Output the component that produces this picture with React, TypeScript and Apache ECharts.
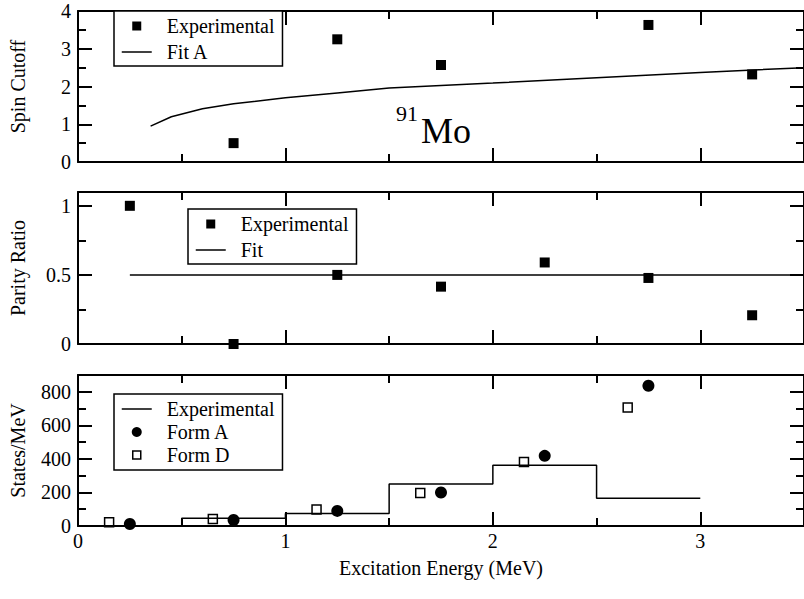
import React, { useEffect, useRef } from 'react';
import * as echarts from 'echarts';

const FONT = 'Liberation Serif, Times New Roman, serif';

// shared x axis
const xTickMajor = [0, 1, 2, 3];
const xTickMinor = [0.5, 1.5, 2.5];

// panel 1: spin cutoff
const spinTickMajor = [0, 1, 2, 3, 4];
const spinTickMinor = [0.5, 1.5, 2.5, 3.5];
const spinExpX = [0.75, 1.25, 1.75, 2.75, 3.25];
const spinExpY = [0.5, 3.25, 2.57, 3.63, 2.32];
const fitAX = [0.35, 0.45, 0.6, 0.75, 1.0, 1.25, 1.5, 2.0, 2.5, 3.0, 3.5];
const fitAY = [0.95, 1.2, 1.41, 1.54, 1.7, 1.83, 1.96, 2.09, 2.23, 2.37, 2.5];

// panel 2: parity ratio
const parityTickMajor = [0, 0.5, 1];
const parityTickMinor = [0.25, 0.75];
const parityExpX = [0.25, 0.75, 1.25, 1.75, 2.25, 2.75, 3.25];
const parityExpY = [1.0, 0.0, 0.5, 0.415, 0.59, 0.478, 0.208];
const parityFitX = [0.25, 3.5];
const parityFitY = [0.5, 0.5];

// panel 3: states / MeV
const statesTickMajor = [0, 200, 400, 600, 800];
const statesTickMinor = [100, 300, 500, 700];
const binStarts = [0, 0.5, 1.0, 1.5, 2.0, 2.5, 3.0];
const binValues = [2, 46, 74, 250, 362, 166, 166];
const formAX = [0.25, 0.75, 1.25, 1.75, 2.25, 2.75];
const formAY = [12, 36, 90, 200, 418, 836];
const formDX = [0.15, 0.65, 1.15, 1.65, 2.15, 2.65];
const formDY = [22, 42, 98, 196, 382, 706];

const legendLabels: Record<string, string> = {
  exp1: 'Experimental',
  fitA: 'Fit A',
  exp2: 'Experimental',
  fit2: 'Fit',
  exp3: 'Experimental',
  formA: 'Form A',
  formD: 'Form D',
};

const zip = (xs: number[], ys: number[]) => xs.map((x, i) => [x, ys[i]]);

const BLACK = '#000';
const axisLineStyle = { color: BLACK, width: 2 };
const labelStyle = { fontFamily: FONT, fontSize: 20, color: BLACK };

const SQUARE_ICON = 'path://M0,0M30,10M10.5,0.5h9v9h-9z';
const OPEN_SQUARE_ICON = 'path://M0,0M30,10M11,1h8v8h-8z';

const squareItem = (name: string) => ({ name, icon: SQUARE_ICON, itemStyle: { color: BLACK, borderWidth: 0, opacity: 1 } });
const lineItem = (name: string) => ({ name, icon: 'line', itemStyle: { color: BLACK, borderColor: BLACK, borderWidth: 1.5, opacity: 1 } });

function xAxes(grid: number, bottomPanel: boolean) {
  const base = { type: 'value', gridIndex: grid, min: 0, max: 3.5, splitLine: { show: false } };
  const major = { show: true, inside: true, length: 14, customValues: xTickMajor, lineStyle: axisLineStyle };
  const minor = { show: true, inside: true, length: 8, customValues: xTickMinor, lineStyle: axisLineStyle };
  return [
    {
      ...base,
      position: 'bottom',
      axisLine: { show: true, onZero: false, lineStyle: axisLineStyle },
      axisTick: major,
      axisLabel: bottomPanel
        ? { show: true, margin: 5, customValues: xTickMajor, ...labelStyle }
        : { show: false },
      name: bottomPanel ? 'Excitation Energy (MeV)' : '',
      nameLocation: 'middle',
      nameGap: 32,
      nameMoveOverlap: false,
      nameTextStyle: labelStyle,
    },
    { ...base, position: 'bottom', axisLine: { show: false, onZero: false }, axisTick: minor, axisLabel: { show: false } },
    { ...base, position: 'top', axisLine: { show: true, onZero: false, lineStyle: axisLineStyle }, axisTick: major, axisLabel: { show: false } },
    { ...base, position: 'top', axisLine: { show: false, onZero: false }, axisTick: minor, axisLabel: { show: false } },
  ];
}

function yAxes(grid: number, min: number, max: number, majorVals: number[], minorVals: number[], name: string) {
  const base = { type: 'value', gridIndex: grid, min, max, splitLine: { show: false } };
  const major = { show: true, inside: true, length: 14, customValues: majorVals, lineStyle: axisLineStyle };
  const minor = { show: true, inside: true, length: 8, customValues: minorVals, lineStyle: axisLineStyle };
  return [
    {
      ...base,
      position: 'left',
      axisLine: { show: true, onZero: false, lineStyle: axisLineStyle },
      axisTick: major,
      axisLabel: { show: true, margin: 7, customValues: majorVals, ...labelStyle },
      name,
      nameLocation: 'middle',
      nameGap: 50,
      nameTextStyle: labelStyle,
    },
    { ...base, position: 'left', axisLine: { show: false, onZero: false }, axisTick: minor, axisLabel: { show: false } },
    { ...base, position: 'right', axisLine: { show: true, onZero: false, lineStyle: axisLineStyle }, axisTick: major, axisLabel: { show: false } },
    { ...base, position: 'right', axisLine: { show: false, onZero: false }, axisTick: minor, axisLabel: { show: false } },
  ];
}

function legend(data: any[], left: number, top: number, gap: number, pad: number[]) {
  return {
    show: true,
    data,
    orient: 'vertical',
    left,
    top,
    itemWidth: 30,
    itemHeight: 10,
    itemGap: gap,
    padding: pad,
    borderColor: BLACK,
    borderWidth: 1.5,
    backgroundColor: '#fff',
    selectedMode: false,
    symbolKeepAspect: true,
    formatter: (n: string) => legendLabels[n] || n,
    textStyle: { ...labelStyle, padding: [0, 0, 0, 10] },
  };
}

export default function App() {
  const ref = useRef<HTMLDivElement>(null);

  useEffect(() => {
    if (!ref.current) return;
    const chart = echarts.init(ref.current, null, { renderer: 'svg' });

    const gridBase = { left: 77, right: -4.5, containLabel: false };
    const option: any = {
      animation: false,
      backgroundColor: '#fff',
      textStyle: { fontFamily: FONT },
      grid: [
        { ...gridBase, top: 11, height: 151 },
        { ...gridBase, top: 192, height: 152 },
        { ...gridBase, top: 375, height: 151 },
      ],
      xAxis: [...xAxes(0, false), ...xAxes(1, false), ...xAxes(2, true)],
      yAxis: [
        ...yAxes(0, 0, 4, spinTickMajor, spinTickMinor, 'Spin Cutoff'),
        ...yAxes(1, 0, 1.1, parityTickMajor, parityTickMinor, 'Parity Ratio'),
        ...yAxes(2, 0, 900, statesTickMajor, statesTickMinor, 'States/MeV'),
      ],
      legend: [
        legend([squareItem('exp1'), lineItem('fitA')], 114, 11, 6, [5, 8, 4, 7]),
        legend([squareItem('exp2'), lineItem('fit2')], 188, 209, 6, [5, 8, 4, 7]),
        legend(
          [
            lineItem('exp3'),
            { name: 'formA', icon: 'circle', itemStyle: { color: BLACK, borderWidth: 0, opacity: 1 } },
            { name: 'formD', icon: OPEN_SQUARE_ICON, itemStyle: { color: '#fff', borderColor: BLACK, borderWidth: 1.5, opacity: 1 } },
          ],
          114, 394, 3, [5, 8, 5, 7]
        ),
      ],
      graphic: [
        {
          type: 'text',
          left: 396,
          top: 102,
          z: 10,
          style: { text: '91', fontSize: 22, fontFamily: FONT, fill: BLACK },
        },
        {
          type: 'text',
          left: 421,
          top: 113,
          z: 10,
          style: { text: 'Mo', fontSize: 36, fontFamily: FONT, fill: BLACK },
        },
      ],
      series: [
        {
          name: 'exp1', type: 'scatter', xAxisIndex: 0, yAxisIndex: 0,
          symbol: 'rect', symbolSize: 10, itemStyle: { color: BLACK, opacity: 1 },
          data: zip(spinExpX, spinExpY),
        },
        {
          name: 'fitA', type: 'line', xAxisIndex: 0, yAxisIndex: 0,
          symbol: 'none', lineStyle: { color: BLACK, width: 1.5 }, itemStyle: { color: BLACK },
          data: zip(fitAX, fitAY),
        },
        {
          name: 'exp2', type: 'scatter', xAxisIndex: 4, yAxisIndex: 4,
          symbol: 'rect', symbolSize: 10, itemStyle: { color: BLACK, opacity: 1 },
          data: zip(parityExpX, parityExpY),
        },
        {
          name: 'fit2', type: 'line', xAxisIndex: 4, yAxisIndex: 4,
          symbol: 'none', lineStyle: { color: BLACK, width: 1.5 }, itemStyle: { color: BLACK },
          data: zip(parityFitX, parityFitY),
        },
        {
          name: 'exp3', type: 'line', xAxisIndex: 8, yAxisIndex: 8, step: 'end',
          symbol: 'none', lineStyle: { color: BLACK, width: 1.5 }, itemStyle: { color: BLACK },
          data: zip(binStarts, binValues),
        },
        {
          name: 'formA', type: 'scatter', xAxisIndex: 8, yAxisIndex: 8,
          symbol: 'circle', symbolSize: 12, itemStyle: { color: BLACK, opacity: 1 },
          data: zip(formAX, formAY),
        },
        {
          name: 'formD', type: 'scatter', xAxisIndex: 8, yAxisIndex: 8,
          symbol: 'rect', symbolSize: 9, itemStyle: { color: '#fff', borderColor: BLACK, borderWidth: 1.5, opacity: 1 },
          data: zip(formDX, formDY),
        },
      ],
    };

    chart.setOption(option);
    return () => chart.dispose();
  }, []);

  return (
    <div
      ref={ref}
      style={{ position: 'absolute', left: 0, top: 0, width: 804, height: 599, background: '#fff' }}
    />
  );
}
